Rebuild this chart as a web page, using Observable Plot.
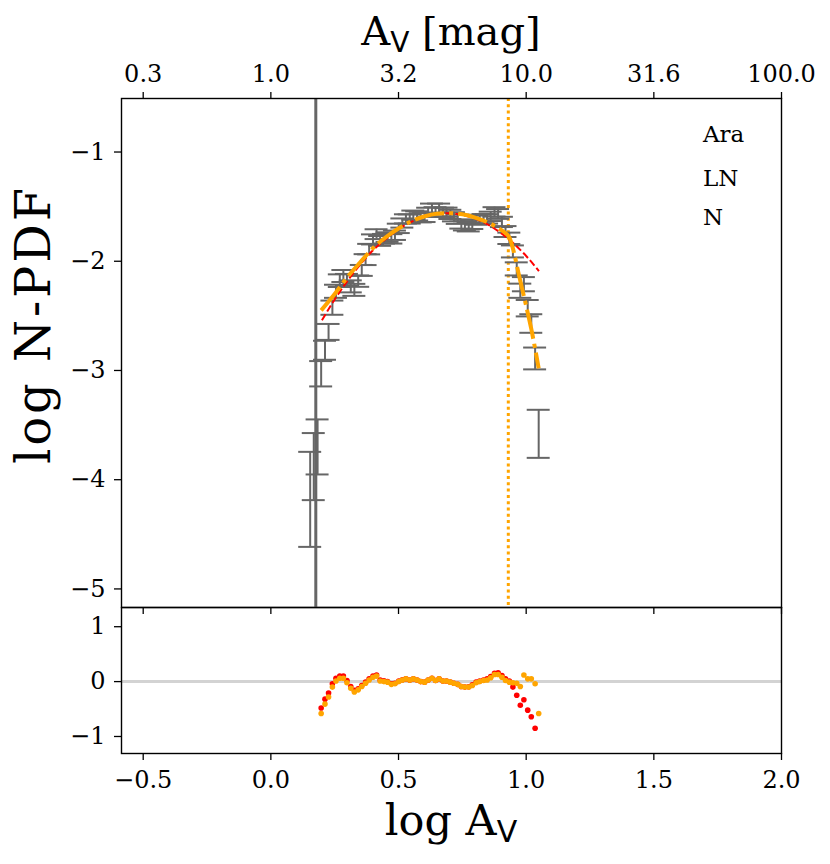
<!DOCTYPE html>
<html><head><meta charset="utf-8">
<script src="https://cdn.jsdelivr.net/npm/d3@7"></script>
<script src="https://cdn.jsdelivr.net/npm/@observablehq/plot@0.6"></script>
<style>
body{margin:0;background:#fff;}
#wrap{position:relative;width:830px;height:864px;font-family:"DejaVu Serif",serif;}
#wrap svg{position:absolute;left:0;overflow:visible;background:transparent;}
</style></head><body><div id="wrap"></div>
<script>
// ---- data ----
const logAv = [0.154,0.168,0.183,0.197,0.212,0.226,0.241,0.255,0.270,0.284,0.298,0.313,0.327,0.342,0.356,0.371,0.385,0.400,0.414,0.428,0.443,0.457,0.472,0.486,0.501,0.515,0.529,0.544,0.558,0.573,0.587,0.602,0.616,0.631,0.645,0.659,0.674,0.688,0.703,0.717,0.732,0.746,0.760,0.775,0.789,0.804,0.818,0.833,0.847,0.861,0.876,0.890,0.905,0.919,0.934,0.948,0.963,0.977,0.991,1.006,1.020,1.035,1.049];
const logPdf = [-4.18,-3.88,-3.70,-3.03,-2.815,-2.647,-2.425,-2.275,-2.178,-2.135,-2.171,-2.23,-2.262,-2.182,-2.084,-1.985,-1.889,-1.80,-1.752,-1.814,-1.794,-1.779,-1.795,-1.762,-1.699,-1.65,-1.612,-1.613,-1.578,-1.585,-1.602,-1.599,-1.552,-1.514,-1.547,-1.514,-1.552,-1.551,-1.571,-1.593,-1.616,-1.659,-1.676,-1.685,-1.663,-1.624,-1.616,-1.61,-1.612,-1.589,-1.548,-1.567,-1.64,-1.728,-1.79,-1.91,-2.07,-2.27,-2.21,-2.43,-2.57,-2.89,-3.58];
const pdfErr = [0.435,0.307,0.252,0.116,0.087,0.073,0.065,0.06,0.058,0.055,0.055,0.055,0.055,0.052,0.05,0.05,0.048,0.046,0.045,0.045,0.044,0.044,0.043,0.043,0.043,0.042,0.042,0.042,0.042,0.042,0.042,0.042,0.042,0.042,0.042,0.042,0.042,0.042,0.042,0.042,0.042,0.042,0.042,0.042,0.042,0.042,0.042,0.042,0.043,0.043,0.043,0.045,0.047,0.05,0.052,0.055,0.06,0.065,0.065,0.075,0.085,0.10,0.22];

// residuals (fit range only: logAv[3..])
const residAv = logAv.slice(3);
const resLN = [-0.48,-0.32,-0.21,-0.04,0.06,0.10,0.10,0.02,-0.09,-0.16,-0.13,-0.07,-0.01,0.05,0.10,0.12,0.03,0.015,0.00,-0.04,-0.03,0.01,0.035,0.05,0.03,0.05,0.03,0.00,-0.01,0.03,0.06,0.02,0.05,0.01,0.01,-0.01,-0.03,-0.05,-0.09,-0.10,-0.095,-0.06,-0.01,0.01,0.03,0.05,0.09,0.15,0.16,0.11,0.05,0.01,-0.10,-0.25,-0.43,-0.33,-0.52,-0.64,-0.85,-1.47];
const resPL = [-0.58,-0.41,-0.28,-0.10,0.01,0.06,0.06,-0.02,-0.12,-0.19,-0.15,-0.09,-0.03,0.03,0.08,0.10,0.01,0.00,-0.01,-0.05,-0.04,0.00,0.03,0.05,0.03,0.05,0.03,0.00,-0.01,0.03,0.06,0.02,0.05,0.01,0.01,-0.01,-0.03,-0.05,-0.09,-0.10,-0.10,-0.07,-0.02,0.00,0.02,0.03,0.07,0.13,0.13,0.08,0.02,-0.01,-0.02,-0.03,-0.09,0.12,0.05,0.05,-0.04,-0.58];

// fitted curves
const lnX = [0.20,0.25,0.30,0.35,0.40,0.45,0.50,0.55,0.60,0.65,0.70,0.75,0.80,0.85,0.90,0.95,1.00,1.05];
const lnY = [-2.54,-2.35,-2.18,-2.03,-1.90,-1.795,-1.707,-1.64,-1.593,-1.567,-1.56,-1.575,-1.609,-1.664,-1.74,-1.836,-1.952,-2.09];
const plX = [0.197,0.25,0.30,0.35,0.40,0.45,0.50,0.55,0.60,0.65,0.70,0.75,0.80,0.85,0.90,0.92,0.935,0.95,0.97,1.00,1.02,1.035,1.049];
const plY = [-2.45,-2.30,-2.145,-2.01,-1.88,-1.78,-1.70,-1.635,-1.59,-1.565,-1.56,-1.57,-1.60,-1.645,-1.71,-1.745,-1.785,-1.90,-2.11,-2.41,-2.62,-2.80,-2.98];

const completenessLogAv = [0.176];
const transitionLogAv = [0.93];

const xTicks = [-0.5, 0, 0.5, 1.0, 1.5, 2.0];
const avTickLabels = ["0.3", "1.0", "3.2", "10.0", "31.6", "100.0"];
const pdfTicks = [-5, -4, -3, -2, -1];
const resTicks = [-1, 0, 1];
const regionLabels = ["Ara", "LN", "N"];

// ---- build tables ----
const bars = logAv.map((x, i) => ({x, y: logPdf[i], e: pdfErr[i]}));
const lnCurve = lnX.map((x, i) => ({x, y: lnY[i]}));
const plCurve = plX.map((x, i) => ({x, y: plY[i]}));
const resid = residAv.map((x, i) => ({x, ln: resLN[i], pl: resPL[i]}));
const avLabel = new Map(xTicks.map((t, i) => [t, avTickLabels[i]]));

const CAP = 0.045; // cap half width in x units
const GRAY = "#666666";
const FONT = "DejaVu Serif";
const TICKFONT = "24px";
const xDomain = [-0.585, 2.0];
const intFmt = d3.format("d");

const main = Plot.plot({
  width: 830, height: 607,
  marginTop: 98, marginBottom: 0, marginLeft: 121, marginRight: 49,
  x: {domain: xDomain},
  y: {domain: [-5.17, -0.51]},
  style: {fontFamily: FONT, fontSize: TICKFONT, background: "transparent", color: "black"},
  marks: [
    Plot.ruleX(completenessLogAv, {stroke: GRAY, strokeWidth: 3}),
    Plot.ruleX(transitionLogAv, {stroke: "orange", strokeWidth: 3, strokeDasharray: "3,3.3"}),
    Plot.ruleX(bars, {x: "x", y1: d => d.y - d.e, y2: d => d.y + d.e, stroke: GRAY, strokeWidth: 2}),
    Plot.ruleY(bars, {y: d => d.y - d.e, x1: d => d.x - CAP, x2: d => d.x + CAP, stroke: GRAY, strokeWidth: 2}),
    Plot.ruleY(bars, {y: d => d.y + d.e, x1: d => d.x - CAP, x2: d => d.x + CAP, stroke: GRAY, strokeWidth: 2}),
    Plot.line(lnCurve, {x: "x", y: "y", stroke: "red", strokeWidth: 2, strokeDasharray: "7,3", strokeLinecap: "butt", curve: "natural"}),
    Plot.line(plCurve, {x: "x", y: "y", stroke: "orange", strokeWidth: 4, strokeDasharray: "30,5,4,5", strokeLinecap: "butt", curve: "monotone-x"}),
    Plot.frame({stroke: "black", strokeWidth: 1.4}),
    Plot.axisX({anchor: "top", ticks: xTicks, tickFormat: d => avLabel.get(d), tickSize: 7, tickPadding: 10, strokeWidth: 1.3, label: null}),
    Plot.axisX({anchor: "bottom", ticks: xTicks, tickFormat: () => "", tickSize: 7, strokeWidth: 1.3, label: null}),
    Plot.axisY({anchor: "left", ticks: pdfTicks, tickFormat: intFmt, tickSize: 7, tickPadding: 9, strokeWidth: 1.3, label: null})
  ]
});

const res = Plot.plot({
  width: 830, height: 257,
  marginTop: 0, marginBottom: 111, marginLeft: 121, marginRight: 49,
  x: {domain: xDomain},
  y: {domain: [-1.31, 1.35]},
  style: {fontFamily: FONT, fontSize: TICKFONT, background: "transparent", color: "black"},
  marks: [
    Plot.ruleY([0], {stroke: "#d3d3d3", strokeWidth: 3}),
    Plot.dot(resid, {x: "x", y: "ln", r: 2.8, fill: "red", stroke: "none", clip: true}),
    Plot.dot(resid, {x: "x", y: "pl", r: 2.8, fill: "orange", stroke: "none", clip: true}),
    Plot.frame({stroke: "black", strokeWidth: 1.4}),
    Plot.axisX({anchor: "bottom", ticks: xTicks, tickFormat: d3.format(".1f"), tickSize: 7, tickPadding: 10, strokeWidth: 1.3, label: null}),
    Plot.axisY({anchor: "left", ticks: resTicks, tickFormat: intFmt, tickSize: 7, tickPadding: 9, strokeWidth: 1.3, label: null})
  ]
});

const wrap = document.getElementById("wrap");
main.style.top = "0px";
res.style.top = "607px";
wrap.appendChild(res);
wrap.appendChild(main);

// force tick-label font on every Plot-generated text
for (const svg of [main, res]) {
  svg.setAttribute("font-size", TICKFONT);
  svg.style.fontSize = TICKFONT;
  d3.select(svg).selectAll("g").filter(function() { return this.getAttribute("font-size"); })
    .attr("font-size", TICKFONT);
  d3.select(svg).selectAll("text").attr("font-size", TICKFONT)
    .style("font-size", TICKFONT).style("font-family", FONT);
}

// ---- labels ----
const ms = d3.select(main);
const title = ms.append("text").attr("x", 451).attr("y", 45).attr("text-anchor", "middle")
  .attr("font-family", FONT).attr("font-size", 40).attr("fill", "black");
title.append("tspan").text("A");
title.append("tspan").attr("font-family", "DejaVu Sans").attr("font-size", 28).attr("dy", 7).text("V");
title.append("tspan").attr("dy", -7).text(" [mag]");

ms.append("text").attr("transform", "translate(50,326) rotate(-90)").attr("text-anchor", "middle")
  .attr("font-family", FONT).attr("font-size", 48).attr("fill", "black")
  .attr("textLength", 276).attr("lengthAdjust", "spacing").text("log N-PDF");

const regionY = [141.7, 186, 225];
regionLabels.forEach((t, i) => {
  ms.append("text").attr("x", 703).attr("y", regionY[i]).attr("text-anchor", "start")
    .attr("font-family", FONT).attr("font-size", 23).attr("fill", "black").text(t);
});

const rs = d3.select(res);
const xl = rs.append("text").attr("x", 451).attr("y", 228).attr("text-anchor", "middle")
  .attr("font-family", FONT).attr("font-size", 43).attr("fill", "black");
xl.append("tspan").text("log A");
xl.append("tspan").attr("font-family", "DejaVu Sans").attr("font-size", 30).attr("dy", 7).text("V");
</script>
</body></html>
